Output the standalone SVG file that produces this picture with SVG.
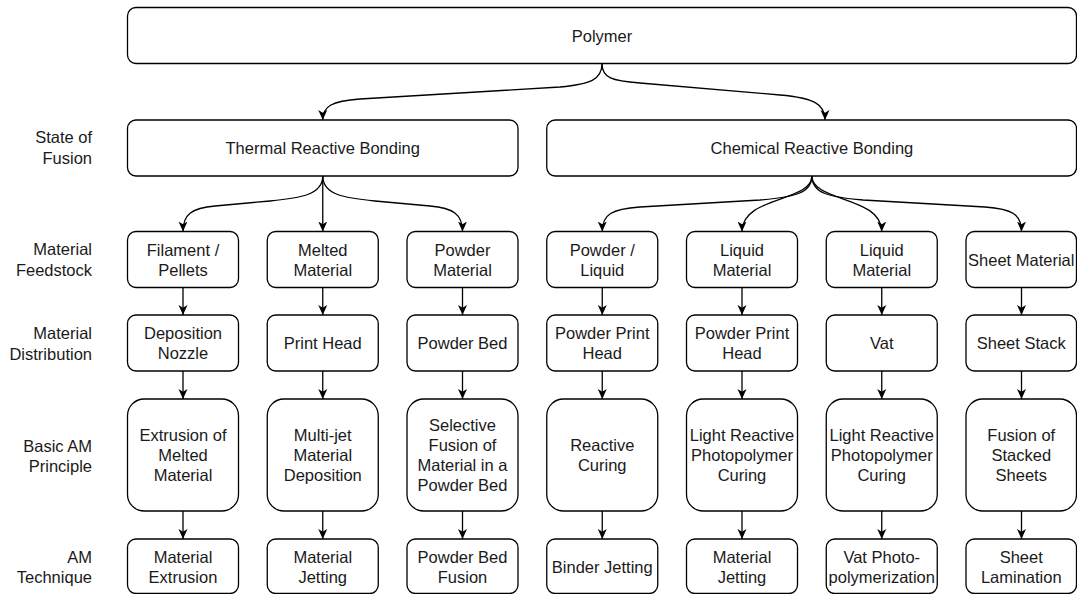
<svg xmlns="http://www.w3.org/2000/svg" width="1077" height="594" viewBox="0 0 1077 594">
<style>
.b{fill:#fff;stroke:#000;stroke-width:1.3}
.t{font-family:"Liberation Sans",Arial,sans-serif;font-size:16.5px;fill:#1a1a1a;text-anchor:middle}
.l{font-family:"Liberation Sans",Arial,sans-serif;font-size:16.5px;fill:#1a1a1a;text-anchor:end}
.c{fill:none;stroke:#000;stroke-width:1.3;marker-end:url(#a)}
</style>
<defs>
<marker id="a" markerUnits="userSpaceOnUse" markerWidth="10" markerHeight="10" viewBox="0 0 10 10" refX="10" refY="5" orient="auto">
<path d="M0,0.5 L10,5 L0,9.5 L2.8,5 Z" fill="#000"/>
</marker>
</defs>
<rect width="1077" height="594" fill="#fff"/>
<g id="labels">
<text class="l" x="92" y="142.5">State of</text><text class="l" x="92" y="164">Fusion</text>
<text class="l" x="92" y="255">Material</text><text class="l" x="92" y="276">Feedstock</text>
<text class="l" x="92" y="339">Material</text><text class="l" x="92" y="360">Distribution</text>
<text class="l" x="92" y="451.5">Basic AM</text><text class="l" x="92" y="471.5">Principle</text>
<text class="l" x="92" y="563">AM</text><text class="l" x="92" y="583">Technique</text>
</g>
<g id="connectors">
<path class="c" d="M602,63.5 C602,78 612,81 640,83 L780,95 C814,98 825,104 825,120"/>
<path class="c" d="M602,63.5 C602,80 590,84 560,87 L360,99 C332,101 322.75,106 322.75,120"/>
<path class="c" d="M322.75,176 C322.75,195 300,198 270,201 L215,206 C192,208 183,214 183,231.5"/>
<path class="c" d="M322.75,176 L322.75,231.5"/>
<path class="c" d="M322.75,176 C322.75,195 345,198 375,201 L430,206 C453,208 462.5,214 462.5,231.5"/>
<path class="c" d="M811.9,176 C811.9,193 795,197 760,200 L640,207 C612,209 602.25,214 602.25,231.5"/>
<path class="c" d="M811.9,176 C811.9,202 742,196 742,231.5"/>
<path class="c" d="M811.9,176 C811.9,202 881.75,196 881.75,231.5"/>
<path class="c" d="M811.9,176 C811.9,193 828,197 863,200 L985,207 C1012,209 1021.5,214 1021.5,231.5"/>
<path class="c" d="M183,287.5V315"/><path class="c" d="M183,371V399"/><path class="c" d="M183,511V539"/>
<path class="c" d="M322.75,287.5V315"/><path class="c" d="M322.75,371V399"/><path class="c" d="M322.75,511V539"/>
<path class="c" d="M462.5,287.5V315"/><path class="c" d="M462.5,371V399"/><path class="c" d="M462.5,511V539"/>
<path class="c" d="M602.25,287.5V315"/><path class="c" d="M602.25,371V399"/><path class="c" d="M602.25,511V539"/>
<path class="c" d="M742,287.5V315"/><path class="c" d="M742,371V399"/><path class="c" d="M742,511V539"/>
<path class="c" d="M881.75,287.5V315"/><path class="c" d="M881.75,371V399"/><path class="c" d="M881.75,511V539"/>
<path class="c" d="M1021.5,287.5V315"/><path class="c" d="M1021.5,371V399"/><path class="c" d="M1021.5,511V539"/>
</g>
<g id="polymer"><rect class="b" x="127.5" y="7.5" width="949" height="56" rx="8.4"/><text class="t" x="602" y="41.5">Polymer</text></g>
<g id="thermal"><rect class="b" x="127.5" y="120" width="390.5" height="56" rx="8.4"/><text class="t" x="322.75" y="154">Thermal Reactive Bonding</text></g>
<g id="chemical"><rect class="b" x="546.75" y="120" width="529.75" height="56" rx="8.4"/><text class="t" x="811.9" y="154">Chemical Reactive Bonding</text></g>

<g id="f1"><rect class="b" x="127.5" y="231.5" width="111" height="56" rx="8.4"/><text class="t" x="183" y="255.5">Filament /</text><text class="t" x="183" y="275.5">Pellets</text></g>
<g id="f2"><rect class="b" x="267.25" y="231.5" width="111" height="56" rx="8.4"/><text class="t" x="322.75" y="255.5">Melted</text><text class="t" x="322.75" y="275.5">Material</text></g>
<g id="f3"><rect class="b" x="407" y="231.5" width="111" height="56" rx="8.4"/><text class="t" x="462.5" y="255.5">Powder</text><text class="t" x="462.5" y="275.5">Material</text></g>
<g id="f4"><rect class="b" x="546.75" y="231.5" width="111" height="56" rx="8.4"/><text class="t" x="602.25" y="255.5">Powder /</text><text class="t" x="602.25" y="275.5">Liquid</text></g>
<g id="f5"><rect class="b" x="686.5" y="231.5" width="111" height="56" rx="8.4"/><text class="t" x="742" y="255.5">Liquid</text><text class="t" x="742" y="275.5">Material</text></g>
<g id="f6"><rect class="b" x="826.25" y="231.5" width="111" height="56" rx="8.4"/><text class="t" x="881.75" y="255.5">Liquid</text><text class="t" x="881.75" y="275.5">Material</text></g>
<g id="f7"><rect class="b" x="966" y="231.5" width="110.5" height="56" rx="8.4"/><text class="t" x="1021.25" y="265.5">Sheet Material</text></g>

<g id="d1"><rect class="b" x="127.5" y="315" width="111" height="56" rx="8.4"/><text class="t" x="183" y="339">Deposition</text><text class="t" x="183" y="359">Nozzle</text></g>
<g id="d2"><rect class="b" x="267.25" y="315" width="111" height="56" rx="8.4"/><text class="t" x="322.75" y="349">Print Head</text></g>
<g id="d3"><rect class="b" x="407" y="315" width="111" height="56" rx="8.4"/><text class="t" x="462.5" y="349">Powder Bed</text></g>
<g id="d4"><rect class="b" x="546.75" y="315" width="111" height="56" rx="8.4"/><text class="t" x="602.25" y="339">Powder Print</text><text class="t" x="602.25" y="359">Head</text></g>
<g id="d5"><rect class="b" x="686.5" y="315" width="111" height="56" rx="8.4"/><text class="t" x="742" y="339">Powder Print</text><text class="t" x="742" y="359">Head</text></g>
<g id="d6"><rect class="b" x="826.25" y="315" width="111" height="56" rx="8.4"/><text class="t" x="881.75" y="349">Vat</text></g>
<g id="d7"><rect class="b" x="966" y="315" width="110.5" height="56" rx="8.4"/><text class="t" x="1021.25" y="349">Sheet Stack</text></g>

<g id="p1"><rect class="b" x="127.5" y="399" width="111" height="112" rx="16.6"/><text class="t" x="183" y="441">Extrusion of</text><text class="t" x="183" y="461">Melted</text><text class="t" x="183" y="481">Material</text></g>
<g id="p2"><rect class="b" x="267.25" y="399" width="111" height="112" rx="16.6"/><text class="t" x="322.75" y="441">Multi-jet</text><text class="t" x="322.75" y="461">Material</text><text class="t" x="322.75" y="481">Deposition</text></g>
<g id="p3"><rect class="b" x="407" y="399" width="111" height="112" rx="16.6"/><text class="t" x="462.5" y="431">Selective</text><text class="t" x="462.5" y="451">Fusion of</text><text class="t" x="462.5" y="471">Material in a</text><text class="t" x="462.5" y="491">Powder Bed</text></g>
<g id="p4"><rect class="b" x="546.75" y="399" width="111" height="112" rx="16.6"/><text class="t" x="602.25" y="451">Reactive</text><text class="t" x="602.25" y="471">Curing</text></g>
<g id="p5"><rect class="b" x="686.5" y="399" width="111" height="112" rx="16.6"/><text class="t" x="742" y="441">Light Reactive</text><text class="t" x="742" y="461">Photopolymer</text><text class="t" x="742" y="481">Curing</text></g>
<g id="p6"><rect class="b" x="826.25" y="399" width="111" height="112" rx="16.6"/><text class="t" x="881.75" y="441">Light Reactive</text><text class="t" x="881.75" y="461">Photopolymer</text><text class="t" x="881.75" y="481">Curing</text></g>
<g id="p7"><rect class="b" x="966" y="399" width="110.5" height="112" rx="16.6"/><text class="t" x="1021.25" y="441">Fusion of</text><text class="t" x="1021.25" y="461">Stacked</text><text class="t" x="1021.25" y="481">Sheets</text></g>

<g id="m1"><rect class="b" x="127.5" y="539" width="111" height="54.5" rx="8.4"/><text class="t" x="183" y="563">Material</text><text class="t" x="183" y="583">Extrusion</text></g>
<g id="m2"><rect class="b" x="267.25" y="539" width="111" height="54.5" rx="8.4"/><text class="t" x="322.75" y="563">Material</text><text class="t" x="322.75" y="583">Jetting</text></g>
<g id="m3"><rect class="b" x="407" y="539" width="111" height="54.5" rx="8.4"/><text class="t" x="462.5" y="563">Powder Bed</text><text class="t" x="462.5" y="583">Fusion</text></g>
<g id="m4"><rect class="b" x="546.75" y="539" width="111" height="54.5" rx="8.4"/><text class="t" x="602.25" y="573">Binder Jetting</text></g>
<g id="m5"><rect class="b" x="686.5" y="539" width="111" height="54.5" rx="8.4"/><text class="t" x="742" y="563">Material</text><text class="t" x="742" y="583">Jetting</text></g>
<g id="m6"><rect class="b" x="826.25" y="539" width="111" height="54.5" rx="8.4"/><text class="t" x="881.75" y="563">Vat Photo-</text><text class="t" x="881.75" y="583">polymerization</text></g>
<g id="m7"><rect class="b" x="966" y="539" width="110.5" height="54.5" rx="8.4"/><text class="t" x="1021.25" y="563">Sheet</text><text class="t" x="1021.25" y="583">Lamination</text></g>
</svg>
